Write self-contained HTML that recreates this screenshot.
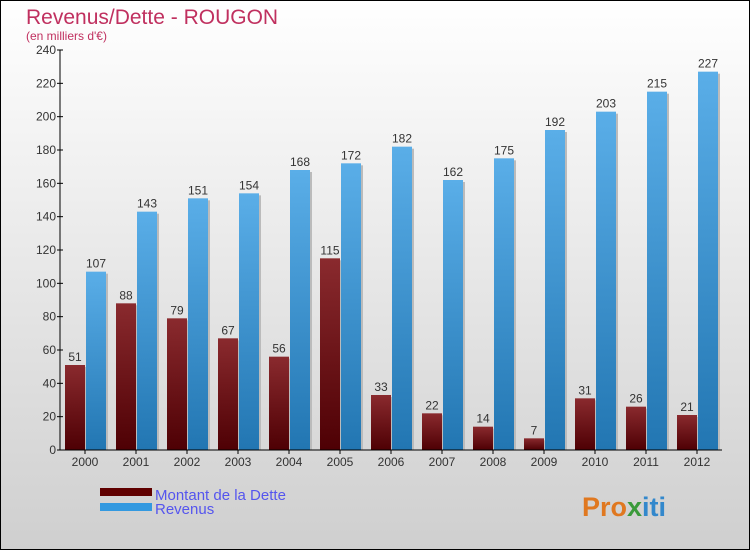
<!DOCTYPE html>
<html><head><meta charset="utf-8"><style>
body{margin:0;}
#c{width:750px;height:550px;position:relative;overflow:hidden;}
svg text{font-family:"Liberation Sans",sans-serif;}
</style></head><body>
<div id="c">
<svg id="s" width="750" height="550" xmlns="http://www.w3.org/2000/svg">
<defs>
<linearGradient id="bg" x1="0" y1="0" x2="0" y2="1"><stop offset="0" stop-color="#ffffff"/><stop offset="1" stop-color="#cfcfcf"/></linearGradient>
<linearGradient id="gd" x1="0" y1="0" x2="0" y2="1"><stop offset="0" stop-color="#8a2a2e"/><stop offset="1" stop-color="#4e0004"/></linearGradient>
<linearGradient id="gr" x1="0" y1="0" x2="0" y2="1"><stop offset="0" stop-color="#5aaee8"/><stop offset="1" stop-color="#2276b2"/></linearGradient>
</defs>
<rect x="0.5" y="0.5" width="749" height="549" fill="url(#bg)" stroke="#000"/>
<text x="26" y="24" font-size="21" fill="#c0305f">Revenus/Dette - ROUGON</text>
<text x="26" y="40" font-size="12" fill="#c0305f">(en milliers d'€)</text>
<g id="plot"></g>
<rect x="100" y="488" width="52" height="8" fill="#600000"/>
<rect x="100" y="503" width="52" height="8" fill="#3399e0"/>
<text x="155" y="500" font-size="15" fill="#5555ee">Montant de la Dette</text>
<text x="155" y="514" font-size="15" fill="#5555ee">Revenus</text>
<text x="582" y="516" font-size="27" font-weight="bold" fill="#e07820">Pro<tspan fill="#3a9a3a">x</tspan><tspan fill="#3388cc">iti</tspan></text>
</svg>
</div>
<script>
const years=["2000","2001","2002","2003","2004","2005","2006","2007","2008","2009","2010","2011","2012"];
const dette=[51,88,79,67,56,115,33,22,14,7,31,26,21];
const revenus=[107,143,151,154,168,172,182,162,175,192,203,215,227];
const yTicks=[0,20,40,60,80,100,120,140,160,180,200,220,240];
const NS="http://www.w3.org/2000/svg";
const g=document.getElementById('plot');
const y0=450,yTop=50,yMax=240,axX=60,x0=85,step=51,bw=20;
const Y=v=>y0-(v/yMax)*(y0-yTop);
const X=i=>x0+i*step;
function mk(t,a){const e=document.createElementNS(NS,t);for(const k in a)e.setAttribute(k,a[k]);g.appendChild(e);return e;}
yTicks.forEach(v=>{
 const l=mk('line',{x1:axX-3,x2:axX+3,y1:Y(v),y2:Y(v),stroke:'#000'});
 
 
 const t=mk('text',{x:axX-4,y:Y(v)+4,'font-size':12,fill:'#333','text-anchor':'end'});
 t.textContent=v;
 
 
});
years.forEach((yr,i)=>{
 const cx=X(i);
 [[dette[i],cx-bw,'url(#gd)','bar-dette'],[revenus[i],cx+1,'url(#gr)','bar-revenus']].forEach(([v,x,f,n])=>{
  const sh=mk('rect',{x:x+2,y:Y(v)+2,width:bw,height:y0-Y(v)-2,fill:'#bbb'});
  
  
  const r=mk('rect',{x:x,y:Y(v),width:bw,height:y0-Y(v),fill:f});
  
  
  const t=mk('text',{x:x+bw/2,y:Y(v)-4,'font-size':12,fill:'#333','text-anchor':'middle'});
  t.textContent=v;
  
  
 });
 const tk=mk('line',{x1:cx,x2:cx,y1:y0,y2:y0+4,stroke:'#000'});
 
 
 const t=mk('text',{x:cx,y:y0+16,'font-size':12,fill:'#333','text-anchor':'middle'});
 t.textContent=yr;
 
 
});
const ya=mk('line',{x1:axX,x2:axX,y1:yTop,y2:y0,stroke:'#000'});


const xa=mk('line',{x1:axX,x2:722,y1:y0,y2:y0,stroke:'#000'});


</script>
</body></html>
